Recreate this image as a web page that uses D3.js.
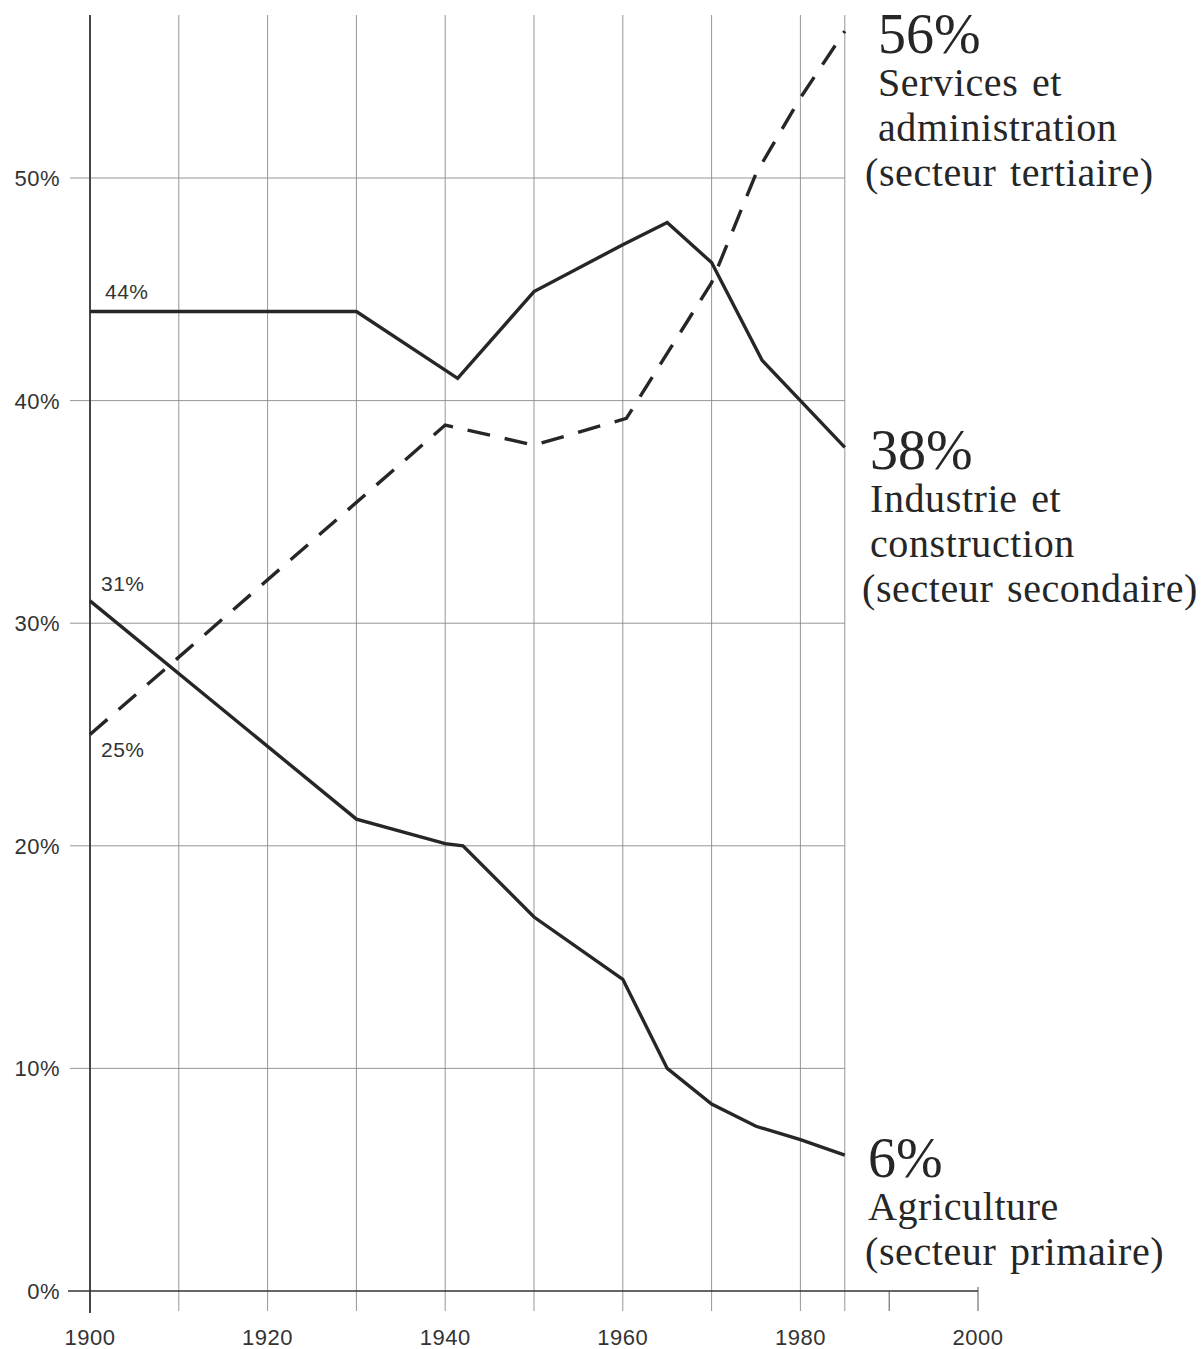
<!DOCTYPE html>
<html>
<head>
<meta charset="utf-8">
<script src="https://cdn.jsdelivr.net/npm/d3@7"></script>
<style>
  html, body { margin: 0; padding: 0; background: #ffffff; }
  svg { display: block; }
</style>
</head>
<body>
<div id="chart"></div>
<script>
// ---- Data ----
const primaryYears  = [1900, 1930, 1940, 1942, 1950, 1960, 1965, 1970, 1975, 1980, 1985];
const primaryVals   = [31, 21.2, 20.1, 20, 16.8, 14, 10, 8.4, 7.4, 6.8, 6.1];

const secondaryYears = [1900, 1930, 1941.4, 1950, 1960, 1965, 1970, 1975.7, 1980, 1985];
const secondaryVals  = [44, 44, 41, 44.9, 47, 48, 46.2, 41.8, 40, 37.9];

const tertiaryYears = [1900, 1940, 1950, 1960.4, 1970, 1975, 1980, 1985];
const tertiaryVals  = [25, 38.9, 38, 39.2, 45.3, 50.2, 53.6, 56.6];

const yTicks = [0, 10, 20, 30, 40, 50];
const yTickLabels = ["0%", "10%", "20%", "30%", "40%", "50%"];
const xLabelYears = [1900, 1920, 1940, 1960, 1980, 2000];
const xGridYears = [1900, 1910, 1920, 1930, 1940, 1950, 1960, 1970, 1980, 1985];
const xExtraTicks = [1990, 2000];

const startLabels = [
  { text: "44%", year: 1900, val: 44, dx: 15, dy: -13 },
  { text: "31%", year: 1900, val: 31, dx: 11, dy: -10 },
  { text: "25%", year: 1900, val: 25, dx: 11, dy: 22 }
];

const endLabels = [
  { big: "56%", val: 56.6, lines: ["Services et", "administration", "(secteur tertiaire)"], bigX: 878, lineX: [878, 878, 865] },
  { big: "38%", val: 37.9, lines: ["Industrie et", "construction", "(secteur secondaire)"], bigX: 870, lineX: [870, 870, 862] },
  { big: "6%",  val: 6.1,  lines: ["Agriculture", "(secteur primaire)"], bigX: 868, lineX: [868, 865] }
];

// ---- Layout ----
const W = 1203, H = 1349;
const svg = d3.select("#chart").append("svg").attr("width", W).attr("height", H);

const x = d3.scaleLinear().domain([1900, 2000]).range([90, 978]);
const y = d3.scaleLinear().domain([0, 50]).range([1291, 178]);
const gridTop = y.invert(15);

const ink = "#262626";
const gridCol = "#8a8a8a";
const sans = "'Liberation Sans', Arial, sans-serif";
const serif = "'Liberation Serif', 'Times New Roman', serif";

// Horizontal gridlines
svg.append("g").selectAll("line").data(yTicks.filter(v => v > 0)).join("line")
  .attr("x1", 70).attr("x2", x(1985))
  .attr("y1", d => y(d)).attr("y2", d => y(d))
  .attr("stroke", gridCol).attr("stroke-width", 0.9);

// Vertical gridlines
svg.append("g").selectAll("line").data(xGridYears.slice(1)).join("line")
  .attr("x1", d => x(d)).attr("x2", d => x(d))
  .attr("y1", y(gridTop)).attr("y2", y(0) + 20)
  .attr("stroke", gridCol).attr("stroke-width", 0.9);

// Extra ticks (1990, 2000)
svg.append("g").selectAll("line").data(xExtraTicks).join("line")
  .attr("x1", d => x(d)).attr("x2", d => x(d))
  .attr("y1", d => d === 2000 ? y(0) - 4 : y(0)).attr("y2", y(0) + 20)
  .attr("stroke", "#555").attr("stroke-width", 1);

// Y axis (1900) line
svg.append("line")
  .attr("x1", x(1900)).attr("x2", x(1900))
  .attr("y1", y(gridTop)).attr("y2", y(0) + 22)
  .attr("stroke", "#333").attr("stroke-width", 1.8);

// X axis (0%) line
svg.append("line")
  .attr("x1", 68).attr("x2", x(2000))
  .attr("y1", y(0)).attr("y2", y(0))
  .attr("stroke", "#333").attr("stroke-width", 1.5);

// Y tick labels
svg.append("g").selectAll("text").data(yTicks).join("text")
  .attr("x", 60).attr("y", d => y(d) + 8)
  .attr("text-anchor", "end")
  .attr("font-family", sans)
  .attr("font-size", 22).attr("letter-spacing", 0.5).attr("fill", "#333")
  .text((d, i) => yTickLabels[i]);

// X tick labels
svg.append("g").selectAll("text").data(xLabelYears).join("text")
  .attr("x", d => x(d)).attr("y", 1345)
  .attr("text-anchor", "middle")
  .attr("font-family", sans)
  .attr("font-size", 22).attr("letter-spacing", 0.5).attr("fill", "#333")
  .text(d => d);

// Lines
const line = d3.line().x(d => x(d[0])).y(d => y(d[1]));
const series = [
  { years: primaryYears, vals: primaryVals, dash: null },
  { years: secondaryYears, vals: secondaryVals, dash: null },
  { years: tertiaryYears, vals: tertiaryVals, dash: "23,15" }
];
series.forEach(s => {
  svg.append("path")
    .datum(s.years.map((yr, i) => [yr, s.vals[i]]))
    .attr("d", line)
    .attr("fill", "none")
    .attr("stroke", ink)
    .attr("stroke-width", 3.4)
    .attr("stroke-linejoin", "miter")
    .attr("stroke-dasharray", s.dash);
});

// Start labels
svg.append("g").selectAll("text").data(startLabels).join("text")
  .attr("x", d => x(d.year) + d.dx).attr("y", d => y(d.val) + d.dy)
  .attr("font-family", sans)
  .attr("font-size", 21).attr("letter-spacing", 0.5).attr("fill", "#333")
  .text(d => d.text);

// End labels
endLabels.forEach(l => {
  const base = y(l.val);
  svg.append("text")
    .attr("x", l.bigX).attr("y", base + 22)
    .attr("font-family", serif).attr("font-size", 56).attr("fill", ink)
    .text(l.big);
  l.lines.forEach((t, i) => {
    svg.append("text")
      .attr("x", l.lineX[i]).attr("y", base + 65 + i * 45)
      .attr("font-family", serif).attr("font-size", 40)
      .attr("letter-spacing", 0.6).attr("word-spacing", 3)
      .attr("fill", ink)
      .text(t);
  });
});
</script>
</body>
</html>
